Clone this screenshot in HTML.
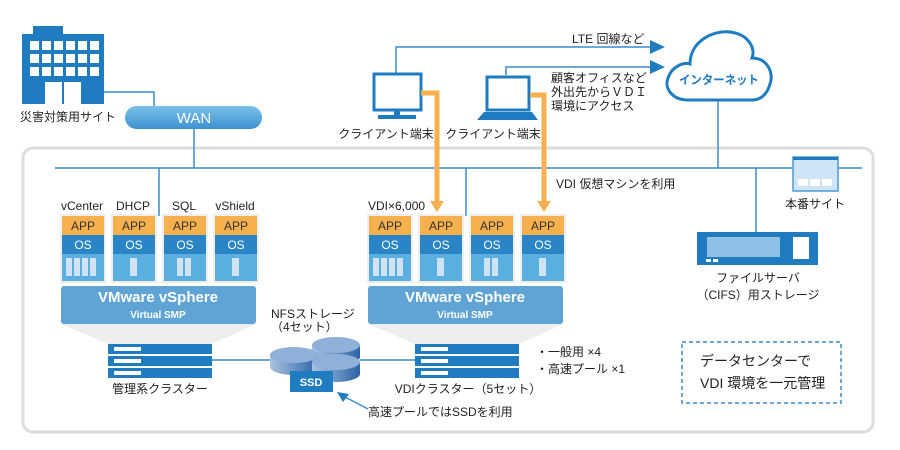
<!DOCTYPE html>
<html><head><meta charset="utf-8"><style>
body{margin:0;background:#fff}
svg{display:block;font-family:"Liberation Sans","Noto Sans CJK JP",sans-serif}
</style></head><body>
<svg width="900" height="450" viewBox="0 0 900 450" xmlns="http://www.w3.org/2000/svg">
<defs>
<linearGradient id="wan" x1="0" y1="0" x2="0" y2="1"><stop offset="0" stop-color="#7cc0ea"/><stop offset="1" stop-color="#3d92cf"/></linearGradient>
<linearGradient id="disk" x1="0" y1="0" x2="1" y2="0"><stop offset="0" stop-color="#a9c3e0"/><stop offset="1" stop-color="#2c63a8"/></linearGradient>
</defs>
<rect x="23" y="148" width="850" height="284" rx="10" fill="#fff" stroke="#ddd" stroke-width="3"/>
<g stroke="#3a8ccb" stroke-width="1.5" fill="none">
<line x1="55" y1="168" x2="862" y2="168"/>
<line x1="194" y1="129" x2="194" y2="168"/>
<polyline points="104,92 154,92 154,106"/>
<line x1="159" y1="168" x2="159" y2="216"/>
<line x1="466" y1="168" x2="466" y2="216"/>
<line x1="756" y1="168" x2="756" y2="232"/>
<line x1="718" y1="100" x2="718" y2="168"/>
<polyline points="396,73 396,47 652,47"/>
<polyline points="506,75 506,67 652,67"/>
<line x1="212" y1="360" x2="272" y2="360"/>
<line x1="360" y1="360" x2="415" y2="360"/>
<line x1="368" y1="409" x2="345" y2="397"/>
</g>
<polygon points="650,40 665,47 650,54" fill="#1f7cc1"/>
<polygon points="650,60 665,67 650,74" fill="#1f7cc1"/>
<polygon points="337,392 349,394 343,402" fill="#1f7cc1"/>
<rect x="33" y="26" width="30" height="8" fill="#1f7cc1"/>
<rect x="22" y="34" width="82" height="70" fill="#1f7cc1"/>
<g fill="#fff">
<rect x="30" y="41" width="9" height="9"/><rect x="42" y="41" width="9" height="9"/><rect x="54" y="41" width="9" height="9"/><rect x="66" y="41" width="9" height="9"/><rect x="78" y="41" width="9" height="9"/><rect x="90" y="41" width="9" height="9"/>
<rect x="30" y="54" width="9" height="9"/><rect x="42" y="54" width="9" height="9"/><rect x="54" y="54" width="9" height="9"/><rect x="66" y="54" width="9" height="9"/><rect x="78" y="54" width="9" height="9"/><rect x="90" y="54" width="9" height="9"/>
<rect x="30" y="67" width="9" height="9"/><rect x="42" y="67" width="9" height="9"/><rect x="54" y="67" width="9" height="9"/><rect x="66" y="67" width="9" height="9"/><rect x="78" y="67" width="9" height="9"/><rect x="90" y="67" width="9" height="9"/>
<rect x="45" y="82" width="17" height="22"/><rect x="64" y="82" width="17" height="22"/>
</g>
<text x="20" y="121" font-size="12" fill="#222">災害対策用サイト</text>
<rect x="125" y="106" width="137" height="23" rx="11.5" fill="url(#wan)"/>
<text x="194" y="123" font-size="15" fill="#fff" text-anchor="middle">WAN</text>
<rect x="374" y="74" width="47" height="36" fill="#fff" stroke="#1f7cc1" stroke-width="3"/>
<rect x="394" y="110" width="6" height="5" fill="#1f7cc1"/>
<rect x="378" y="115" width="38" height="4" fill="#1f7cc1"/>
<text x="386" y="138" font-size="12" fill="#222" text-anchor="middle">クライアント端末</text>
<rect x="487" y="77" width="42" height="33" fill="#fff" stroke="#1f7cc1" stroke-width="3"/>
<polygon points="484,112 532,112 538,120 477,120" fill="#1f7cc1"/>
<text x="493" y="138" font-size="12" fill="#222" text-anchor="middle">クライアント端末</text>
<text x="572" y="43" font-size="12" fill="#222">LTE 回線など</text>
<text x="551" y="82" font-size="12" fill="#222">顧客オフィスなど</text>
<text x="551" y="96" font-size="12" fill="#222">外出先からＶＤＩ</text>
<text x="551" y="110" font-size="12" fill="#222">環境にアクセス</text>
<path d="M688,100 C672,100 664,88 668,78 C672,66 684,62 690,64 C690,42 712,30 730,32 C748,34 756,48 752,58 C768,58 774,74 770,84 C767,95 760,100 752,100 Z" fill="#fff" stroke="#1f7cc1" stroke-width="3"/>
<text x="719" y="84" font-size="12" font-weight="bold" fill="#1f7cc1" text-anchor="middle" textLength="80" lengthAdjust="spacingAndGlyphs">インターネット</text>
<g stroke="#f6b04d" stroke-width="5" fill="none">
<polyline points="421,93 437,93 437,203"/>
<polyline points="530,95 544,95 544,203"/>
</g>
<polygon points="430,201 444,201 437,212" fill="#f6b04d"/>
<polygon points="537,201 551,201 544,212" fill="#f6b04d"/>
<text x="556" y="188" font-size="12" fill="#222">VDI 仮想マシンを利用</text>
<rect x="793" y="157" width="45" height="34" fill="#cfe4f4" stroke="#4a9bd6" stroke-width="1.5"/>
<rect x="793" y="157" width="45" height="3" fill="#1f7cc1"/>
<rect x="798" y="179" width="10" height="7" fill="#fff"/><rect x="810" y="179" width="10" height="7" fill="#fff"/><rect x="822" y="179" width="10" height="7" fill="#fff"/>
<text x="815" y="208" font-size="12" fill="#222" text-anchor="middle">本番サイト</text>
<rect x="697" y="232" width="121" height="33" fill="#1f7cc1"/>
<rect x="707" y="237" width="73" height="20" fill="#8fc0e6"/>
<rect x="793" y="237" width="16" height="22" fill="#fff"/>
<rect x="706" y="259" width="5" height="3" fill="#fff"/><rect x="713" y="259" width="5" height="3" fill="#fff"/>
<text x="758" y="282" font-size="12" fill="#222" text-anchor="middle">ファイルサーバ</text>
<text x="758" y="299" font-size="12" fill="#222" text-anchor="middle">（CIFS）用ストレージ</text>
<g font-size="12" fill="#222" text-anchor="middle">
<text x="82" y="210">vCenter</text><text x="133" y="210">DHCP</text><text x="184" y="210">SQL</text><text x="235" y="210">vShield</text>
</g>
<text x="368" y="210" font-size="12" fill="#222">VDI×6,000</text>
<g font-size="12" fill="#fff" text-anchor="middle">
<g transform="translate(60,214)"><rect width="46" height="69" fill="#eee"/><rect x="2" y="2" width="42" height="19" fill="#f6b04d"/><rect x="2" y="21" width="42" height="19" fill="#2a85c6"/><rect x="2" y="40" width="42" height="27" fill="#5aaee0"/><text x="23" y="16" fill="#333">APP</text><text x="23" y="35">OS</text><rect x="6" y="44" width="6" height="18" fill="#cfe3f3"/><rect x="14" y="44" width="6" height="18" fill="#cfe3f3"/><rect x="22" y="44" width="6" height="18" fill="#cfe3f3"/><rect x="30" y="44" width="6" height="18" fill="#cfe3f3"/></g>
<g transform="translate(111,214)"><rect width="46" height="69" fill="#eee"/><rect x="2" y="2" width="42" height="19" fill="#f6b04d"/><rect x="2" y="21" width="42" height="19" fill="#2a85c6"/><rect x="2" y="40" width="42" height="27" fill="#5aaee0"/><text x="23" y="16" fill="#333">APP</text><text x="23" y="35">OS</text><rect x="19" y="44" width="7" height="18" fill="#cfe3f3"/></g>
<g transform="translate(162,214)"><rect width="46" height="69" fill="#eee"/><rect x="2" y="2" width="42" height="19" fill="#f6b04d"/><rect x="2" y="21" width="42" height="19" fill="#2a85c6"/><rect x="2" y="40" width="42" height="27" fill="#5aaee0"/><text x="23" y="16" fill="#333">APP</text><text x="23" y="35">OS</text><rect x="15" y="44" width="6" height="18" fill="#cfe3f3"/><rect x="23" y="44" width="6" height="18" fill="#cfe3f3"/></g>
<g transform="translate(213,214)"><rect width="46" height="69" fill="#eee"/><rect x="2" y="2" width="42" height="19" fill="#f6b04d"/><rect x="2" y="21" width="42" height="19" fill="#2a85c6"/><rect x="2" y="40" width="42" height="27" fill="#5aaee0"/><text x="23" y="16" fill="#333">APP</text><text x="23" y="35">OS</text><rect x="19" y="44" width="7" height="18" fill="#cfe3f3"/></g>
<g transform="translate(367,214)"><rect width="46" height="69" fill="#eee"/><rect x="2" y="2" width="42" height="19" fill="#f6b04d"/><rect x="2" y="21" width="42" height="19" fill="#2a85c6"/><rect x="2" y="40" width="42" height="27" fill="#5aaee0"/><text x="23" y="16" fill="#333">APP</text><text x="23" y="35">OS</text><rect x="6" y="44" width="6" height="18" fill="#cfe3f3"/><rect x="14" y="44" width="6" height="18" fill="#cfe3f3"/><rect x="22" y="44" width="6" height="18" fill="#cfe3f3"/><rect x="30" y="44" width="6" height="18" fill="#cfe3f3"/></g>
<g transform="translate(418,214)"><rect width="46" height="69" fill="#eee"/><rect x="2" y="2" width="42" height="19" fill="#f6b04d"/><rect x="2" y="21" width="42" height="19" fill="#2a85c6"/><rect x="2" y="40" width="42" height="27" fill="#5aaee0"/><text x="23" y="16" fill="#333">APP</text><text x="23" y="35">OS</text><rect x="19" y="44" width="7" height="18" fill="#cfe3f3"/></g>
<g transform="translate(469,214)"><rect width="46" height="69" fill="#eee"/><rect x="2" y="2" width="42" height="19" fill="#f6b04d"/><rect x="2" y="21" width="42" height="19" fill="#2a85c6"/><rect x="2" y="40" width="42" height="27" fill="#5aaee0"/><text x="23" y="16" fill="#333">APP</text><text x="23" y="35">OS</text><rect x="15" y="44" width="6" height="18" fill="#cfe3f3"/><rect x="23" y="44" width="6" height="18" fill="#cfe3f3"/></g>
<g transform="translate(520,214)"><rect width="46" height="69" fill="#eee"/><rect x="2" y="2" width="42" height="19" fill="#f6b04d"/><rect x="2" y="21" width="42" height="19" fill="#2a85c6"/><rect x="2" y="40" width="42" height="27" fill="#5aaee0"/><text x="23" y="16" fill="#333">APP</text><text x="23" y="35">OS</text><rect x="19" y="44" width="7" height="18" fill="#cfe3f3"/></g>
</g>
<polygon points="61,324 256,324 212,344 108,344" fill="#eeeeee"/>
<polygon points="368,324 563,324 519,344 415,344" fill="#eeeeee"/>
<rect x="61" y="286" width="195" height="38" rx="3" fill="#5fa4d4"/>
<text x="158" y="302" font-size="15" font-weight="bold" fill="#fff" text-anchor="middle">VMware vSphere</text>
<text x="158" y="318" font-size="10" font-weight="bold" fill="#fff" text-anchor="middle">Virtual SMP</text>
<rect x="368" y="286" width="195" height="38" rx="3" fill="#5fa4d4"/>
<text x="465" y="302" font-size="15" font-weight="bold" fill="#fff" text-anchor="middle">VMware vSphere</text>
<text x="465" y="318" font-size="10" font-weight="bold" fill="#fff" text-anchor="middle">Virtual SMP</text>
<g fill="#1f7cc1">
<rect x="108" y="344" width="104" height="10"/><rect x="108" y="356" width="104" height="10"/><rect x="108" y="368" width="104" height="10"/>
<rect x="415" y="344" width="104" height="10"/><rect x="415" y="356" width="104" height="10"/><rect x="415" y="368" width="104" height="10"/>
</g>
<g fill="#fff">
<rect x="114" y="347" width="27" height="4"/><rect x="114" y="359" width="27" height="4"/><rect x="114" y="371" width="27" height="4"/>
<rect x="421" y="347" width="27" height="4"/><rect x="421" y="359" width="27" height="4"/><rect x="421" y="371" width="27" height="4"/>
</g>
<text x="160" y="393" font-size="12" fill="#222" text-anchor="middle">管理系クラスター</text>
<text x="468" y="393" font-size="12" fill="#222" text-anchor="middle">VDIクラスター（5セット）</text>
<g>
<path d="M312,345 v12 a24,8 0 0 0 48,0 v-12" fill="url(#disk)"/><ellipse cx="336" cy="345" rx="24" ry="8" fill="#8fb0d8"/>
<path d="M270,355 v12 a24,8 0 0 0 48,0 v-12" fill="url(#disk)"/><ellipse cx="294" cy="355" rx="24" ry="8" fill="#8fb0d8"/>
<path d="M312,362 v12 a24,8 0 0 0 48,0 v-12" fill="url(#disk)"/><ellipse cx="336" cy="362" rx="24" ry="8" fill="#8fb0d8"/>
</g>
<rect x="290" y="371" width="43" height="21" fill="#1f7cc1"/>
<text x="311" y="386" font-size="11" font-weight="bold" fill="#fff" text-anchor="middle">SSD</text>
<text x="271" y="318" font-size="12" fill="#222">NFSストレージ</text>
<text x="271" y="331" font-size="12" fill="#222">（4セット）</text>
<text x="368" y="416" font-size="12" fill="#222">高速プールではSSDを利用</text>
<text x="536" y="356" font-size="12" fill="#222">・一般用 ×4</text>
<text x="536" y="373" font-size="12" fill="#222">・高速プール ×1</text>
<rect x="682" y="342" width="159" height="61" fill="none" stroke="#3a8ccb" stroke-width="1.5" stroke-dasharray="4,3"/>
<text x="700" y="366" font-size="14" fill="#222">データセンターで</text>
<text x="700" y="388" font-size="14" fill="#222">VDI 環境を一元管理</text>
</svg>
</body></html>
